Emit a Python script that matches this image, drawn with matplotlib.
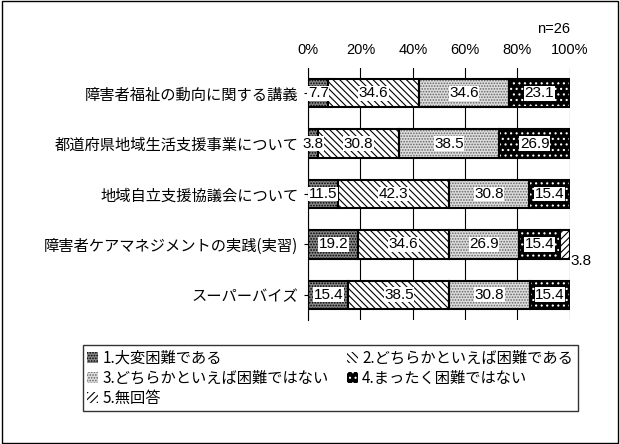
import matplotlib
matplotlib.use("Agg")
import matplotlib.pyplot as plt
import numpy as np

plt.rcParams['font.family'] = ['Noto Sans CJK JP']
plt.rcParams['hatch.linewidth'] = 0.8

categories = ["障害者福祉の動向に関する講義", "都道府県地域生活支援事業について",
              "地域自立支援協議会について", "障害者ケアマネジメントの実践(実習)", "スーパーバイズ"]
series_names = ["1.大変困難である", "2.どちらかといえば困難である", "3.どちらかといえば困難ではない",
                "4.まったく困難ではない", "5.無回答"]
s1 = [7.7, 3.8, 11.5, 19.2, 15.4]
s2 = [34.6, 30.8, 42.3, 34.6, 38.5]
s3 = [34.6, 38.5, 30.8, 26.9, 30.8]
s4 = [23.1, 26.9, 15.4, 15.4, 15.4]
s5 = [0, 0, 0, 3.8, 0]
xticklabels = ["0%", "20%", "40%", "60%", "80%", "100%"]

styles = [dict(facecolor="#888888", hatch="......", edgecolor="black"),
          dict(facecolor="white", hatch="\\\\\\\\\\", edgecolor="black"),
          dict(facecolor="#dddddd", hatch="......", edgecolor="#666666"),
          dict(facecolor="black", hatch="...", edgecolor="white"),
          dict(facecolor="white", hatch="/////", edgecolor="black")]

fig = plt.figure(figsize=(6.2, 4.44), dpi=100)
fig.patches.append(plt.Rectangle((0.003, 0.003), 0.994, 0.994, transform=fig.transFigure,
                                 fill=False, edgecolor="black", lw=1))
ax = fig.add_axes([0.497, 0.279, 0.422, 0.568])
y = np.arange(len(categories))
left = np.zeros(len(categories))
for i, vals in enumerate([s1, s2, s3, s4, s5]):
    vals = np.array(vals)
    ax.barh(y, vals, left=left, height=0.56, label=series_names[i], lw=0, **styles[i])
    ax.barh(y, vals, left=left, height=0.56, fill=False, edgecolor="black", lw=1.5)
    for j, v in enumerate(vals):
        if v == 0:
            continue
        if i == 4:
            ax.text(left[j] + v + 0.3, y[j] + 0.33, f"{v}", ha="left", va="center", fontsize=11,
                    fontfamily="Liberation Sans")
        else:
            ax.text(left[j] + v / 2, y[j], f"{v}", ha="center", va="center", fontsize=11,
                    fontfamily="Liberation Sans",
                    bbox=dict(facecolor="white", edgecolor="none", pad=0.3))
    left += vals

ax.set_xlim(0, 100)
ax.set_ylim(4.5, -0.5)
ax.set_xticks(np.arange(0, 101, 20))
ax.set_xticklabels(xticklabels, fontfamily="Liberation Sans", fontsize=10.5)
ax.xaxis.tick_top()
ax.tick_params(axis="x", length=0, pad=8)
ax.set_yticks(y)
ax.set_yticklabels(categories, fontsize=11)
ax.tick_params(axis="y", length=3, pad=4)
ax.grid(axis="x", color="black", lw=0.8)
ax.set_axisbelow(True)
for sp in ["top", "right", "bottom"]:
    ax.spines[sp].set_visible(False)
ax.text(1.0, 1.14, "n=26", transform=ax.transAxes, ha="right", fontsize=10.5, fontfamily="Liberation Sans")

handles, labels = ax.get_legend_handles_labels()
order = [0, 2, 4, 1, 3]
leg = fig.legend([handles[k] for k in order], [labels[k] for k in order], loc="upper left",
                 bbox_to_anchor=(0.121, 0.24, 0.823, 0), mode="expand", ncol=2, fontsize=11,
                 frameon=True, fancybox=False,
                 edgecolor="black", handlelength=0.7, handleheight=0.7, labelspacing=0.2,
                 columnspacing=1.0, borderpad=0.3, handletextpad=0.3)
leg.get_frame().set_linewidth(1)
fig.savefig("out.png", dpi=100)
